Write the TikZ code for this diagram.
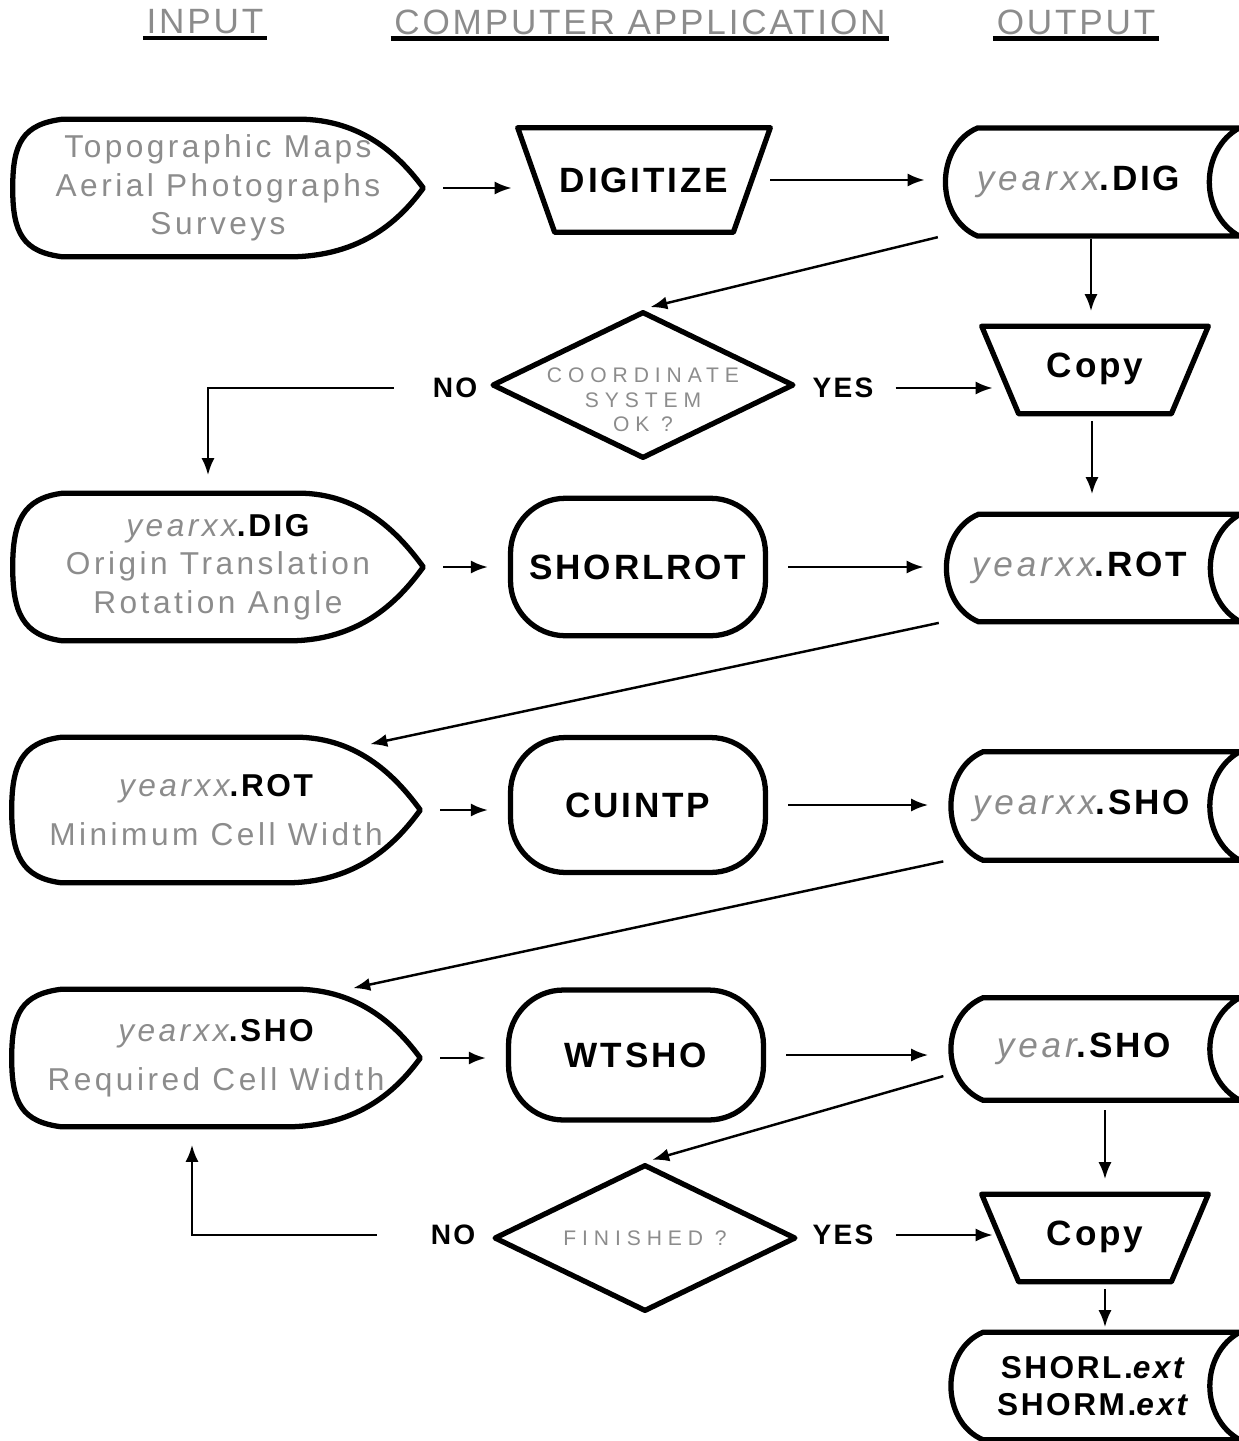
\documentclass[tikz,border=0pt]{standalone}
\usepackage{fontspec}
\setmainfont{Liberation Sans}[LetterSpace=8]
\newfontfamily\widefont{Liberation Sans}[LetterSpace=11]
\newfontfamily\widerfont{Liberation Sans}[LetterSpace=28]
\usetikzlibrary{arrows.meta,calc,shapes.geometric}
\definecolor{faint}{gray}{0.55}

\begin{document}
\begin{tikzpicture}[x=0.02cm,y=-0.02cm]
	\tikzset{shp/.style={line width=3pt,line join=round}}
	\tikzset{arr/.style={line width=1.4pt,-{Latex[length=3.4mm,width=2.6mm]},shorten <=0.4cm,shorten >=0.4cm}}
	\tikzset{inbox/.style={minimum width=8.2cm,minimum height=2.8cm,inner sep=0pt,align=center,text=faint,font=\widefont\fontsize{18}{22}\selectfont}}
	\tikzset{store/.style={minimum width=5.92cm,minimum height=2.15cm,inner sep=0pt,align=center,font=\bfseries\fontsize{20}{24}\selectfont}}
	\tikzset{proc/.style={shp,draw,rounded corners=1.1cm,minimum width=5.1cm,minimum height=2.75cm,font=\bfseries\fontsize{20}{24}\selectfont}}
	\tikzset{manual/.style={minimum width=4.52cm,minimum height=1.74cm,inner sep=0pt,font=\bfseries\fontsize{20}{24}\selectfont}}
	\tikzset{decide/.style={shp,draw,diamond,minimum width=6.04cm,minimum height=2.94cm,inner sep=0pt}}
	\tikzset{dtext/.style={text=faint,align=center,font=\widerfont\fontsize{12}{14}\selectfont}}
	\tikzset{yesno/.style={font=\bfseries\fontsize{16}{18}\selectfont}}
	\tikzset{head/.style={text=faint,inner sep=2pt,font=\fontsize{20}{24}\selectfont}}
	\newcommand{\yr}[1]{{\color{faint}\widefont\mdseries\itshape #1}}
	\useasboundingbox (0,0) rectangle (1239,1441);

	% column titles
	\node[head] (hin) at (205,22) {INPUT};
	\node[head] (happ) at (640,22) {COMPUTER APPLICATION};
	\node[head] (hout) at (1076,22) {OUTPUT};
	\foreach \h in {hin,happ,hout}
		\draw[line width=2.6pt] (\h.south west) -- (\h.south east);

	% row 1
	\node[inbox,minimum height=2.74cm] (in1) at (218,188) {Topographic Maps\\Aerial Photographs\\Surveys};
	\node[manual,minimum width=5.04cm,minimum height=2.08cm] (dig) at (644,180) {DIGITIZE};
	\node[store] (s1) at (1091,182) {\yr{yearxx}.DIG\hspace*{0.5cm}};

	% coordinate check
	\node[decide,label={[dtext,yshift=-0.3cm]center:COORDINATE\\SYSTEM\\OK ?}] (d1) at (643,385) {};
	\node[yesno] (no1) at (455,388) {NO};
	\node[yesno] (yes1) at (843,388) {YES};
	\node[manual] (c1) at (1095,370) {\raisebox{0.2cm}{Copy}};

	% rotation
	\node[inbox,minimum height=2.94cm] (in2) at (218,567) {\yr{yearxx}\textcolor{black}{\normalfont\bfseries .DIG}\\Origin Translation\\Rotation Angle};
	\node[proc] (shorl) at (638,567) {SHORLROT};
	\node[store,minimum height=2.14cm] (s2) at (1092,568) {\yr{yearxx}.ROT\hspace*{0.5cm}};

	% interpolation
	\node[inbox,minimum width=8.16cm,minimum height=2.9cm] (in3) at (216,810) {\yr{yearxx}\textcolor{black}{\normalfont\bfseries .ROT}\\[6pt]Minimum Cell Width};
	\node[proc,minimum height=2.7cm] (cuintp) at (638,805) {CUINTP};
	\node[store,minimum width=5.82cm,minimum height=2.16cm] (s3) at (1094,806) {\yr{yearxx}.SHO\hspace*{0.5cm}};

	% weighting
	\node[inbox,minimum width=8.16cm,minimum height=2.74cm] (in4) at (216,1058) {\yr{yearxx}\textcolor{black}{\normalfont\bfseries .SHO}\\[6pt]Required Cell Width};
	\node[proc,minimum height=2.6cm] (wtsho) at (636,1055) {WTSHO};
	\node[store,minimum width=5.82cm,minimum height=2.04cm] (s4) at (1094,1049) {\yr{year}.SHO\hspace*{0.4cm}};

	% finished check
	\node[decide,label={[dtext]center:FINISHED ?}] (d2) at (645,1238) {};
	\node[yesno] (no2) at (453,1235) {NO};
	\node[yesno] (yes2) at (843,1235) {YES};
	\node[manual] (c2) at (1095,1238) {\raisebox{0.2cm}{Copy}};
	\node[store,minimum width=5.82cm,minimum height=2.14cm,font=\bfseries\fontsize{18}{21}\selectfont] (s5) at (1094,1386) {SHORL.\textit{ext}\\SHORM.\textit{ext}};

	% outlines
	\foreach \n in {in1,in2,in3,in4}
		\draw[shp] ($(\n.north west)+(50,0)$) -- ($(\n.north east)+(-125,0)$) .. controls ($(\n.north east)+(-60,0)$) and ($(\n.east)+(-22,-30)$) .. (\n.east) .. controls ($(\n.east)+(-22,30)$) and ($(\n.south east)+(-60,0)$) .. ($(\n.south east)+(-135,0)$) -- ($(\n.south west)+(50,0)$) .. controls ($(\n.south west)+(10,-5)$) and ($(\n.west)+(0,45)$) .. (\n.west) .. controls ($(\n.west)+(0,-45)$) and ($(\n.north west)+(10,5)$) .. cycle;
	\foreach \n in {s1,s2,s3,s4,s5}
		\draw[shp] ($(\n.north west)+(35,0)$) -- (\n.north east) .. controls ($(\n.north east)+(-40,22)$) and ($(\n.south east)+(-40,-22)$) .. (\n.south east) -- ($(\n.south west)+(35,0)$) .. controls ($(\n.south west)+(-8,-18)$) and ($(\n.north west)+(-8,18)$) .. cycle;
	\foreach \n in {dig,c1,c2}
		\draw[shp] (\n.north west) -- (\n.north east) -- ($(\n.south east)+(-37,0)$) -- ($(\n.south west)+(37,0)$) -- cycle;

	% flow
	\draw[arr,shorten >=0.12cm] (in1.east) -- (in1.east -| dig.west);
	\draw[arr,shorten <=0cm,shorten >=0.36cm] (dig.east) -- (dig.east -| s1.west);
	\draw[arr,shorten <=0.1cm,shorten >=0.15cm] (s1.200) -- (d1.north);
	\draw[arr,shorten <=0.05cm,shorten >=0.3cm] (s1.south) -- (s1.south |- c1.north);
	\draw[arr,shorten <=0.66cm,shorten >=0.36cm] (no1.west) -| ([xshift=-0.2cm]in2.north);
	\draw[arr,shorten <=0.32cm,shorten >=0cm] (yes1.east) -- ([xshift=0.22cm]yes1.east -| c1.west);
	\draw[arr,shorten <=0.15cm,shorten >=0.4cm] (c1.south -| s2.north) -- (s2.north);
	\draw[arr] (in2.east) -- (in2.east -| shorl.west);
	\draw[arr] (shorl.east) -- (shorl.east -| s2.west);
	\draw[arr,shorten <=0.1cm,shorten >=0.1cm] (s2.south west) -- ($(in3.north east)+(-55,8)$);
	\draw[arr] (in3.east) -- (in3.east -| cuintp.west);
	\draw[arr] (cuintp.east) -- (cuintp.east -| s3.west);
	\draw[arr,shorten <=0.1cm,shorten >=0.1cm] (s3.south west) -- ($(in4.north east)+(-72,0)$);
	\draw[arr] (in4.east) -- (in4.east -| wtsho.west);
	\draw[arr] (wtsho.east) -- (wtsho.east -| s4.west);
	\draw[arr,shorten <=0.1cm,shorten >=0.15cm] (s4.190) -- (d2.north);
	\draw[arr,shorten <=0.2cm,shorten >=0.3cm] ([xshift=0.22cm]s4.south) -- ([xshift=0.22cm]s4.south |- c2.north);
	\draw[arr,shorten <=0.96cm,shorten >=0.36cm] (no2.west) -| ([xshift=-0.48cm]in4.south);
	\draw[arr,shorten <=0.32cm,shorten >=0cm] (yes2.east) -- ([xshift=0.22cm]yes2.east -| c2.west);
	\draw[arr,shorten <=0.15cm,shorten >=0.1cm] ([xshift=0.22cm]c2.south -| s5.north) -- ([xshift=0.22cm]s5.north);
\end{tikzpicture}
\end{document}
